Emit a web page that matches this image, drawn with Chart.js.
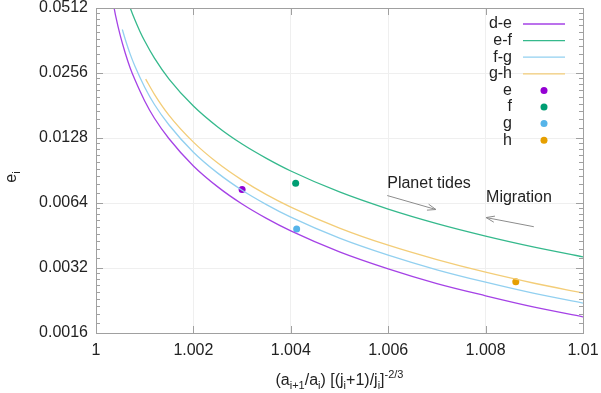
<!DOCTYPE html>
<html lang="en">
<head>
  <meta charset="UTF-8">
  <title>Eccentricity vs period ratio</title>
  <script src="https://cdn.jsdelivr.net/npm/chart.js"></script>
  <style>
    * { box-sizing: border-box; }
    body, html { margin:0; padding:0; background:#fff; }
    .chart-box { position:relative; width:601px; height:393px; }
  </style>
</head>
<body>
  <div class="chart-box">
    <canvas id="eccChart"></canvas>
  </div>
  <script>
    // curve d-e
    const deX = [1.00036, 1.0004, 1.0005, 1.0006, 1.0007, 1.0008, 1.001, 1.0012, 1.0015, 1.002, 1.0025, 1.003, 1.0035, 1.004, 1.005, 1.006, 1.007, 1.008, 1.009, 1.01];
    const deY = [0.0528, 0.0475, 0.038, 0.0317, 0.0271, 0.0238, 0.019, 0.0158, 0.0127, 0.0095, 0.0076, 0.00633, 0.00543, 0.00475, 0.0038, 0.00317, 0.00271, 0.00238, 0.00211, 0.0019];
    // curve e-f
    const efX = [1.00066, 1.0007, 1.0008, 1.0009, 1.001, 1.0012, 1.0015, 1.002, 1.0025, 1.003, 1.0035, 1.004, 1.005, 1.006, 1.007, 1.008, 1.009, 1.01];
    const efY = [0.0545, 0.0514, 0.045, 0.04, 0.036, 0.030, 0.024, 0.018, 0.0144, 0.012, 0.0103, 0.009, 0.0072, 0.006, 0.00514, 0.0045, 0.004, 0.0036];
    // curve f-g
    const fgX = [1.00054, 1.0006, 1.0007, 1.0008, 1.001, 1.0012, 1.0015, 1.002, 1.0025, 1.003, 1.0035, 1.004, 1.005, 1.006, 1.007, 1.008, 1.009, 1.01];
    const fgY = [0.0407, 0.0367, 0.0314, 0.0275, 0.022, 0.0183, 0.0147, 0.011, 0.0088, 0.00733, 0.00629, 0.0055, 0.0044, 0.00367, 0.00314, 0.00275, 0.00244, 0.0022];
    // curve g-h
    const ghX = [1.00102, 1.0012, 1.0015, 1.002, 1.0025, 1.003, 1.0035, 1.004, 1.005, 1.006, 1.007, 1.008, 1.009, 1.01];
    const ghY = [0.024, 0.0204, 0.0163, 0.01225, 0.0098, 0.00817, 0.007, 0.00613, 0.0049, 0.00408, 0.0035, 0.00306, 0.00272, 0.00245];
    // planets
    const planetNames = ['e', 'f', 'g', 'h'];
    const planetX = [1.003, 1.0041, 1.00412, 1.00862];
    const planetY = [0.0074, 0.0079, 0.00485, 0.00276];

    const xTicks = [1, 1.002, 1.004, 1.006, 1.008, 1.01];
    const xTickLabels = ['1', '1.002', '1.004', '1.006', '1.008', '1.01'];
    const yTicks = [0.0016, 0.0032, 0.0064, 0.0128, 0.0256, 0.0512];
    const yTickLabels = ['0.0016', '0.0032', '0.0064', '0.0128', '0.0256', '0.0512'];

    const lineColors = ['#a542e6', '#35b98c', '#92d0f0', '#f3cd78'];
    const pointColors = ['#9400d3', '#009e73', '#56b4e9', '#e69f00'];

    const pts = (xs, ys) => xs.map((x, i) => ({ x, y: ys[i] }));

    const curves = [
      { label: 'd-e', data: pts(deX, deY) },
      { label: 'e-f', data: pts(efX, efY) },
      { label: 'f-g', data: pts(fgX, fgY) },
      { label: 'g-h', data: pts(ghX, ghY) }
    ];

    const datasets = curves.map((c, i) => ({
      label: c.label,
      data: c.data,
      borderColor: lineColors[i],
      borderWidth: 1.3,
      pointRadius: 0,
      fill: false,
      cubicInterpolationMode: 'monotone'
    }));
    planetNames.forEach((n, i) => {
      datasets.push({
        label: n,
        data: [{ x: planetX[i], y: planetY[i] }],
        showLine: false,
        pointRadius: 3.5,
        pointBackgroundColor: pointColors[i],
        pointBorderWidth: 0,
        borderColor: pointColors[i]
      });
    });

    // annotations in data units
    const notes = [
      { text: 'Planet tides', x: 1.00598, y: 0.0079, from: [1.00598, 0.00693], to: [1.00698, 0.00597] },
      { text: 'Migration', x: 1.00801, y: 0.00678, from: [1.00899, 0.00497], to: [1.00801, 0.00548] }
    ];

    const FONT = '"Liberation Sans", Arial, sans-serif';

    function drawArrow(ctx, x1, y1, x2, y2) {
      const a = Math.atan2(y2 - y1, x2 - x1);
      const len = 9, spread = 0.35;
      ctx.beginPath();
      ctx.moveTo(x1, y1); ctx.lineTo(x2, y2);
      ctx.moveTo(x2 - len * Math.cos(a - spread), y2 - len * Math.sin(a - spread));
      ctx.lineTo(x2, y2);
      ctx.lineTo(x2 - len * Math.cos(a + spread), y2 - len * Math.sin(a + spread));
      ctx.stroke();
    }

    // draw a run of [text, shift] pieces; shift: 0 normal, -1 sub, 1 sup
    function runWidth(ctx, parts) {
      let w = 0;
      parts.forEach(p => {
        ctx.font = (p[1] ? 11 : 16) + 'px ' + FONT;
        w += ctx.measureText(p[0]).width;
      });
      return w;
    }
    function drawRun(ctx, parts, x, y) {
      parts.forEach(p => {
        ctx.font = (p[1] ? 11 : 16) + 'px ' + FONT;
        const dy = p[1] === -1 ? 4 : (p[1] === 1 ? -7 : 0);
        ctx.fillText(p[0], x, y + dy);
        x += ctx.measureText(p[0]).width;
      });
    }

    const decor = {
      id: 'decor',
      afterDatasetsDraw(chart) {
        const { ctx, chartArea: ca, scales } = chart;
        const xs = scales.x, ys = scales.y;
        ctx.save();

        // frame
        ctx.strokeStyle = '#a0a0a0';
        ctx.lineWidth = 1;
        ctx.strokeRect(Math.round(ca.left) + 0.5, Math.round(ca.top) + 0.5, Math.round(ca.width), Math.round(ca.height));

        // inward ticks
        ctx.beginPath();
        xTicks.forEach(v => {
          const px = Math.round(xs.getPixelForValue(v)) + 0.5;
          ctx.moveTo(px, ca.bottom); ctx.lineTo(px, ca.bottom - 7);
          ctx.moveTo(px, ca.top); ctx.lineTo(px, ca.top + 7);
        });
        yTicks.forEach((v, i) => {
          const py = Math.round(ys.getPixelForValue(v)) + 0.5;
          ctx.moveTo(ca.left, py); ctx.lineTo(ca.left + 7, py);
          ctx.moveTo(ca.right, py); ctx.lineTo(ca.right - 7, py);
          if (i < yTicks.length - 1) {
            for (let k = 1; k <= 8; k++) {
              const my = Math.round(ys.getPixelForValue(v * (1 + k / 9))) + 0.5;
              ctx.moveTo(ca.left, my); ctx.lineTo(ca.left + 4, my);
              ctx.moveTo(ca.right, my); ctx.lineTo(ca.right - 4, my);
            }
          }
        });
        ctx.stroke();

        // annotations
        ctx.fillStyle = '#222';
        ctx.font = '16px ' + FONT;
        ctx.textBaseline = 'middle';
        ctx.textAlign = 'left';
        ctx.strokeStyle = '#8c8c8c';
        notes.forEach(n => {
          ctx.fillText(n.text, xs.getPixelForValue(n.x), ys.getPixelForValue(n.y));
          drawArrow(ctx,
            xs.getPixelForValue(n.from[0]), ys.getPixelForValue(n.from[1]),
            xs.getPixelForValue(n.to[0]), ys.getPixelForValue(n.to[1]));
        });

        // legend (text right, key on the right)
        const lx = 512, ly0 = 24, step = 16.6;
        chart.data.datasets.forEach((ds, i) => {
          const y = ly0 + i * step;
          ctx.fillStyle = '#222';
          ctx.textAlign = 'right';
          ctx.font = '16px ' + FONT;
          ctx.fillText(ds.label, lx, y);
          if (ds.showLine === false) {
            ctx.fillStyle = ds.pointBackgroundColor;
            ctx.beginPath();
            ctx.arc(544, y, 3.5, 0, Math.PI * 2);
            ctx.fill();
          } else {
            ctx.strokeStyle = ds.borderColor;
            ctx.lineWidth = 1.3;
            ctx.beginPath();
            ctx.moveTo(523, y); ctx.lineTo(565, y);
            ctx.stroke();
          }
        });

        // axis titles
        ctx.fillStyle = '#222';
        ctx.textAlign = 'left';
        ctx.textBaseline = 'alphabetic';
        const xTitle = [['(a', 0], ['i+1', -1], ['/a', 0], ['i', -1], [') [(j', 0], ['i', -1], ['+1)/j', 0], ['i', -1], [']', 0], ['-2/3', 1]];
        const w = runWidth(ctx, xTitle);
        drawRun(ctx, xTitle, (ca.left + ca.right) / 2 - w / 2, 385);

        ctx.translate(16, 177);
        ctx.rotate(-Math.PI / 2);
        const yTitle = [['e', 0], ['i', -1]];
        const wy = runWidth(ctx, yTitle);
        drawRun(ctx, yTitle, -wy / 2, 0);

        ctx.restore();
      }
    };

    Chart.defaults.font.family = FONT;
    Chart.defaults.font.size = 16;
    Chart.defaults.color = '#222';

    new Chart(document.getElementById('eccChart'), {
      type: 'line',
      data: { datasets },
      options: {
        responsive: true,
        maintainAspectRatio: false,
        animation: false,
        layout: { padding: { top: 8, right: 18, left: 0, bottom: 0 } },
        plugins: { legend: { display: false }, tooltip: { enabled: false } },
        scales: {
          x: {
            type: 'linear',
            min: 1,
            max: 1.01,
            afterBuildTicks: s => { s.ticks = xTicks.map(v => ({ value: v })); },
            afterFit: s => { s.height = 60; s.paddingLeft = 0; s.paddingRight = 0; },
            ticks: {
              padding: 8,
              maxRotation: 0,
              callback: (v) => xTickLabels[xTicks.findIndex(t => Math.abs(t - v) < 1e-9)]
            },
            grid: { color: '#efefef', drawTicks: false },
            border: { display: false }
          },
          y: {
            type: 'logarithmic',
            min: 0.0016,
            max: 0.0512,
            afterBuildTicks: s => { s.ticks = yTicks.map(v => ({ value: v })); },
            afterFit: s => { s.width = 96; s.paddingTop = 0; s.paddingBottom = 0; },
            ticks: {
              padding: 8,
              callback: (v) => yTickLabels[yTicks.findIndex(t => Math.abs(t - v) < 1e-9)]
            },
            grid: { color: '#efefef', drawTicks: false },
            border: { display: false }
          }
        }
      },
      plugins: [decor]
    });
  </script>
</body>
</html>
